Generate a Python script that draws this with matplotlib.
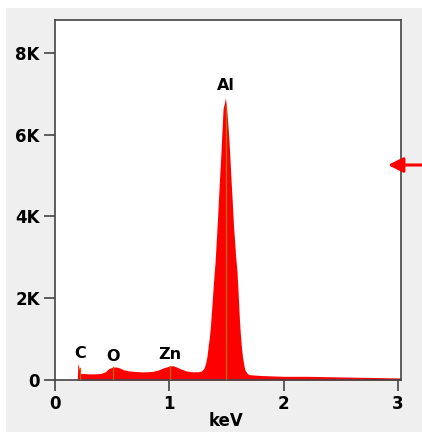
import matplotlib
matplotlib.use("Agg")
import matplotlib.pyplot as plt
from matplotlib.patches import Rectangle

# Spectrum data (keV, counts in thousands)
energy = [0.195, 0.20, 0.21, 0.22, 0.25, 0.30, 0.35, 0.40, 0.44, 0.47, 0.50, 0.53, 0.56,
          0.60, 0.65, 0.70, 0.75, 0.80, 0.85, 0.90, 0.95, 1.00, 1.03, 1.07, 1.10, 1.15,
          1.20, 1.25, 1.28, 1.30, 1.31, 1.32, 1.33, 1.34, 1.35, 1.36, 1.37, 1.38, 1.39,
          1.40, 1.41, 1.42, 1.43, 1.44, 1.45, 1.46, 1.47, 1.48, 1.49, 1.50, 1.51, 1.52,
          1.53, 1.54, 1.55, 1.56, 1.57, 1.58, 1.59, 1.60, 1.61, 1.62, 1.63, 1.64, 1.65,
          1.66, 1.68, 1.70, 1.75, 1.80, 1.90, 2.00, 2.20, 2.40, 2.60, 2.80, 3.00, 3.02]
counts = [0.0, 0.41, 0.30, 0.16, 0.16, 0.15, 0.15, 0.16, 0.20, 0.28, 0.31, 0.32, 0.30,
          0.25, 0.22, 0.21, 0.20, 0.20, 0.21, 0.24, 0.30, 0.34, 0.35, 0.31, 0.27, 0.22,
          0.20, 0.20, 0.22, 0.28, 0.35, 0.45, 0.60, 0.85, 1.05, 1.35, 1.75, 2.15, 2.55,
          2.90, 3.40, 3.90, 4.45, 5.00, 5.50, 6.10, 6.65, 6.75, 6.90, 6.65, 6.30, 5.90,
          5.40, 4.85, 4.35, 3.80, 3.40, 3.00, 2.70, 2.20, 1.60, 1.15, 0.80, 0.55, 0.38,
          0.25, 0.16, 0.13, 0.12, 0.11, 0.10, 0.09, 0.09, 0.08, 0.07, 0.06, 0.05, 0.05]

# Element markers
elements = ["C", "O", "Zn", "Al"]
elem_energy = [0.22, 0.51, 1.005, 1.495]
elem_height = [0.30, 0.32, 0.35, 6.70]
label_height = [0.65, 0.57, 0.62, 7.2]

xticks = [0, 1, 2, 3]
xticklabels = ["0", "1", "2", "3"]
yticks = [0, 2, 4, 6, 8]
yticklabels = ["0", "2K", "4K", "6K", "8K"]

W, H = 422, 432
fig = plt.figure(figsize=(W / 100, H / 100), dpi=100, facecolor="white")
bg = Rectangle((6 / W, 0), 1 - 6 / W, 1 - 8 / H, transform=fig.transFigure,
               facecolor="#efefef", edgecolor="none", zorder=-10)
fig.add_artist(bg)

ax = fig.add_axes([55 / W, 1 - 380 / H, (401 - 55) / W, (380 - 20) / H])
ax.set_zorder(1)
ax.set_facecolor("white")
ax.fill_between(energy, counts, 0, color="#ff0000", linewidth=0, zorder=2)

for e, h in zip(elem_energy, elem_height):
    ax.plot([e, e], [0, h], color="#b5651d", linewidth=1.0, zorder=3)
for name, e, lh in zip(elements, elem_energy, label_height):
    ax.text(e, lh, name, ha="center", va="center", fontsize=11.5,
            fontweight="bold", color="black", zorder=4)

ax.set_xlim(0, 3.025)
ax.set_ylim(0, 8.8)
ax.set_xticks(xticks)
ax.set_xticklabels(xticklabels)
ax.set_yticks(yticks)
ax.set_yticklabels(yticklabels)
ax.tick_params(direction="out", length=8, width=1.2, color="#444444",
               labelsize=12, pad=3)
for lbl in ax.get_xticklabels() + ax.get_yticklabels():
    lbl.set_fontweight("bold")
for s in ax.spines.values():
    s.set_color("#444444")
    s.set_linewidth(1.2)

fig.text(226 / W, 2 / H, "keV", ha="center", va="bottom", fontsize=12,
         fontweight="bold", zorder=5)

# Red arrow at right
arrow = ax.annotate("", xy=(388 / W, 1 - 165 / H), xytext=(1.0, 1 - 165 / H),
                    xycoords="figure fraction", textcoords="figure fraction",
                    arrowprops=dict(arrowstyle="-|>,head_length=0.9,head_width=0.45",
                                    color="#ff0000", lw=2.2, shrinkA=0, shrinkB=0),
                    annotation_clip=False, zorder=10)

fig.savefig("out.png", dpi=100, facecolor=fig.get_facecolor())
